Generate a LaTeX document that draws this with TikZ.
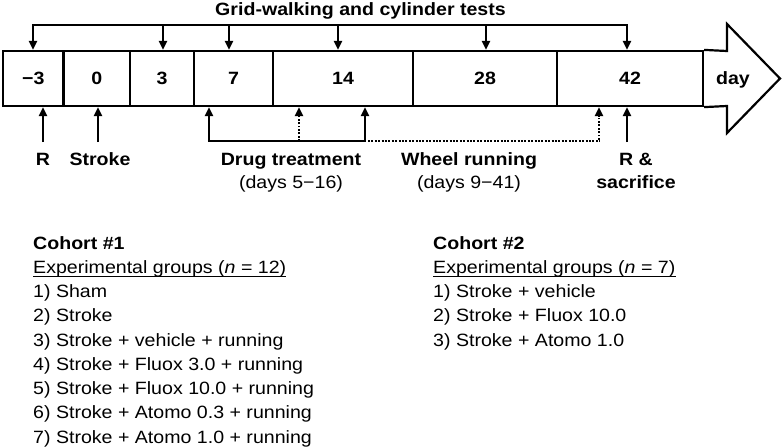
\documentclass[tikz,border=0pt]{standalone}
\usepackage{fontspec}
\setmainfont{Liberation Sans}[FakeStretch=1.1]
\usetikzlibrary{arrows.meta,calc}
\newcommand\myfs{\fontsize{17.8pt}{24pt}\selectfont}
\begin{document}
\begin{tikzpicture}[x=1pt,y=-1pt,
  cell/.style={draw,line width=2.2pt,minimum height=55pt,inner sep=0pt,
    text height=12.7pt,text depth=0pt,font=\myfs\bfseries},
  lbl/.style={inner sep=0pt,anchor=base,font=\myfs\bfseries},
  sub/.style={inner sep=0pt,anchor=base,font=\myfs},
  item/.style={inner sep=0pt,anchor=base west,font=\myfs},
  head/.style={inner sep=0pt,anchor=base west,font=\myfs\bfseries},
  conn/.style={line width=2.2pt,-{Triangle[length=9pt,width=8pt]}},
  plain/.style={line width=2.2pt},
  dots/.style={line width=2.5pt,dash pattern=on 1.9pt off 1.5pt},
  dotarrow/.style={dots,-{Triangle[length=9pt,width=8pt]}}
]
\useasboundingbox (0,0) rectangle (784,447);

% timeline cells
\node[cell,minimum width=60.5pt] (c1) at (33.25,78.5) {−3};
\node[cell,minimum width=66.5pt] (c2) at (96.75,78.5) {0};
\node[cell,minimum width=64pt]   (c3) at (162,78.5) {3};
\node[cell,minimum width=79pt]   (c4) at (233.5,78.5) {7};
\node[cell,minimum width=140pt]  (c5) at (343,78.5) {14};
\node[cell,minimum width=144pt]  (c6) at (485,78.5) {28};
\node[cell,minimum width=146pt]  (c7) at (630,78.5) {42};

% arrow head part
\coordinate (h1) at (727,51);
\coordinate (h2) at (727,24);
\coordinate (tip) at (780,78.5);
\coordinate (h3) at (727,133);
\coordinate (h4) at (727,106);
\draw[line width=2.2pt,line join=miter,miter limit=10]
  (c7.north east) -- (h1) -- (h2) -- (tip) -- (h3) -- (h4) -- (c7.south east);
\node[lbl] (day) at (733,84.9) {day};

% grid-walking and cylinder tests
\node[lbl] (grid) at (360.5,15) {Grid-walking and cylinder tests};
\coordinate (g1) at (33,25);
\coordinate (g2) at (163,25);
\coordinate (g3) at (229,25);
\coordinate (g4) at (338,25);
\coordinate (g5) at (486,25);
\coordinate (g6) at (627,25);
\draw[plain] ([xshift=-1.1pt]g1) -- ([xshift=1.1pt]g6);
\draw[conn] (g1) -- (g1 |- c1.north);
\draw[conn] (g2) -- (g2 |- c3.north);
\draw[conn] (g3) -- (g3 |- c4.north);
\draw[conn] (g4) -- (g4 |- c5.north);
\draw[conn] (g5) -- (g5 |- c6.north);
\draw[conn] (g6) -- (g6 |- c7.north);

% lower arrows
\coordinate (rb) at (43,142);
\coordinate (sb) at (98,142);
\coordinate (d1) at (209,141);
\coordinate (w1) at (299,141);
\coordinate (d2) at (365,141);
\coordinate (w2) at (599,141);
\coordinate (rs) at (627,142);
\draw[conn] (rb) -- (rb |- c1.south);
\draw[conn] (sb) -- (sb |- c2.south);
\draw[plain] ([xshift=-1.1pt]d1) -- ([xshift=1.1pt]d2);
\draw[conn] ([yshift=1.1pt]d1) -- (d1 |- c4.south);
\draw[conn] ([yshift=1.1pt]d2) -- (d2 |- c5.south);
\draw[dots] ([xshift=3pt]d2) -- ([xshift=1.2pt]w2);
\draw[dotarrow] (w1) -- (w1 |- c5.south);
\draw[dotarrow] ([yshift=1.2pt]w2) -- (w2 |- c7.south);
\draw[conn] (rs) -- (rs |- c7.south);

% lower labels
\node[lbl] (lr) at (43,165) {R};
\node[lbl] (ls) at (100,165) {Stroke};
\node[lbl] (ldrug) at (291,165) {Drug treatment};
\node[sub] (ldrugd) at (291,188) {(days 5−16)};
\node[lbl] (lwheel) at (469,165) {Wheel running};
\node[sub] (lwheeld) at (469,188) {(days 9−41)};
\node[lbl] (lrs) at (636,165) {R \&};
\node[lbl] (lsac) at (636,188) {sacrifice};

% cohort 1
\node[head] (k1) at (33,249) {Cohort \#1};
\node[item] (e1) at (33,273.25) {Experimental groups (\textit{n} = 12)};
\draw[line width=1.2pt] ([yshift=-3pt]e1.base west) -- ([yshift=-3pt]e1.base east);
\node[item] (a1) at (33,297.5) {1) Sham};
\node[item] (a2) at (33,321.75) {2) Stroke};
\node[item] (a3) at (33,346) {3) Stroke + vehicle + running};
\node[item] (a4) at (33,370.25) {4) Stroke + Fluox 3.0 + running};
\node[item] (a5) at (33,394.5) {5) Stroke + Fluox 10.0 + running};
\node[item] (a6) at (33,418.75) {6) Stroke + Atomo 0.3 + running};
\node[item] (a7) at (33,443) {7) Stroke + Atomo 1.0 + running};

% cohort 2
\node[head] (k2) at (433,249) {Cohort \#2};
\node[item] (e2) at (433,273.25) {Experimental groups (\textit{n} = 7)};
\draw[line width=1.2pt] ([yshift=-3pt]e2.base west) -- ([yshift=-3pt]e2.base east);
\node[item] (b1) at (433,297.5) {1) Stroke + vehicle};
\node[item] (b2) at (433,321.75) {2) Stroke + Fluox 10.0};
\node[item] (b3) at (433,346) {3) Stroke + Atomo 1.0};
\end{tikzpicture}
\end{document}
